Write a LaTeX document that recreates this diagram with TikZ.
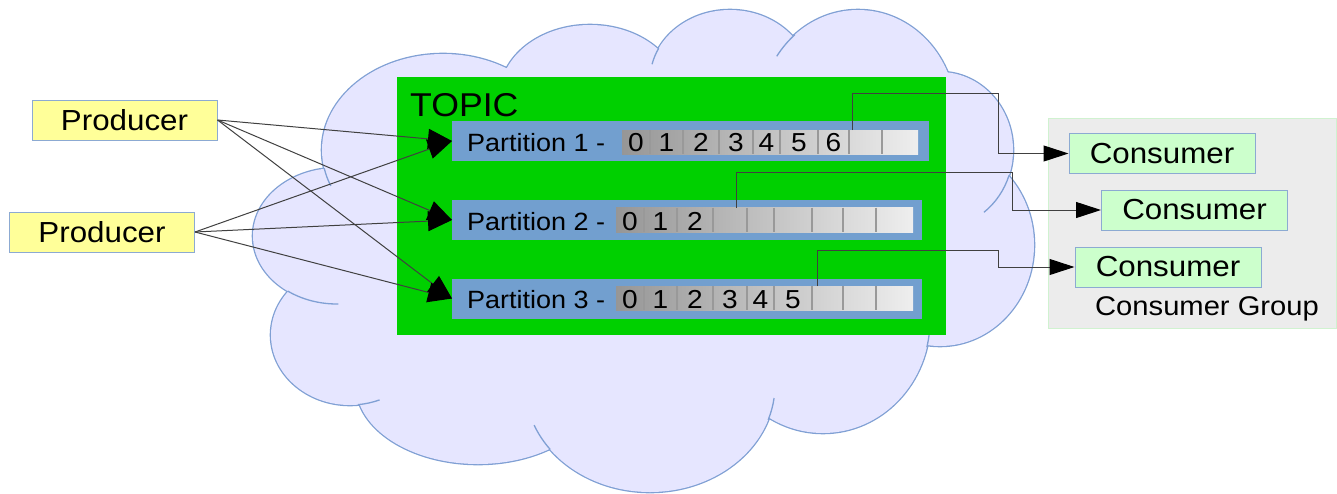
\documentclass[tikz,border=0pt]{standalone}
\usepackage{fontspec}
\setmainfont{Liberation Sans}[FakeStretch=1.08]
\usetikzlibrary{arrows.meta}

\definecolor{cloudfill}{RGB}{230,230,255}
\definecolor{cloudedge}{RGB}{128,160,212}
\definecolor{topicgreen}{RGB}{0,208,0}
\definecolor{barblue}{RGB}{114,159,207}
\definecolor{prodfill}{RGB}{255,255,153}
\definecolor{consfill}{RGB}{204,255,204}
\definecolor{groupfill}{RGB}{236,236,236}
\definecolor{groupline}{RGB}{208,242,208}
\definecolor{boxline}{RGB}{140,170,210}
\definecolor{cellL}{RGB}{150,150,150}
\definecolor{cellR}{RGB}{238,238,238}

\newcommand\pxfont[1]{\fontsize{#1}{#1}\selectfont}

\begin{document}
\begin{tikzpicture}[x=1pt,y=1pt,
  prodbox/.style={draw=boxline, line width=1, fill=prodfill, minimum width=185,
    minimum height=40, inner sep=0, font=\pxfont{29}},
  consbox/.style={draw=boxline, line width=1, fill=consfill, minimum width=186,
    minimum height=40, inner sep=0, font=\pxfont{29}},
  groupbox/.style={draw=groupline, line width=1, fill=groupfill, minimum width=288,
    minimum height=210, inner sep=0},
  partbar/.style={fill=barblue, minimum height=40, inner sep=0, anchor=west},
  partlabel/.style={anchor=base west, inner sep=0, font=\pxfont{25}},
  celldigit/.style={anchor=base, inner sep=0, font=\pxfont{26}},
  cellsep/.style={draw=black!40, line width=1.1},
  feed/.style={draw=black!75, line width=1, -{Triangle[length=24pt,width=20pt,color=black]}},
  fetch/.style={draw=black!75, line width=1, -{Triangle[length=25pt,width=16pt,color=black]}},
]
\useasboundingbox (0,0) rectangle (1337,-493);

% ---- cloud: union of elliptic lobes ----
\def\lobelist{443/150/121/96, 590/95/90/70, 730/80/80/70, 858/115/98/105,
  940/150/73/78, 940/245/94/101, 823/320/107/113, 650/385/125/107,
  478/385/122/79, 350/335/79/70, 337/236/84/68}
\foreach \cx/\cy/\rx/\ry in \lobelist
  \draw[cloudedge, line width=2.6] (\cx,-\cy) ellipse [x radius=\rx, y radius=\ry];
\foreach \cx/\cy/\rx/\ry in \lobelist
  \fill[cloudfill] (\cx,-\cy) ellipse [x radius=\rx, y radius=\ry];
\fill[cloudfill] (324,-170) -- (507,-68) -- (659,-50) -- (793,-37) -- (948,-73)
  -- (1009,-177) -- (927,-345) -- (769,-418) -- (550,-448) -- (360,-404)
  -- (289,-291) -- cycle;
% inner lobe arcs
\begin{scope}[cloudedge, line width=1.3]
  \draw (443,-150) ++(191:121 and 96) arc[start angle=191, end angle=202, x radius=121, y radius=96];
  \draw (337,-236) ++(234:84 and 68) arc[start angle=234, end angle=271, x radius=84, y radius=68];
  \draw (350,-335) ++(276:79 and 70) arc[start angle=276, end angle=292, x radius=79, y radius=70];
  \draw (650,-385) ++(202:125 and 107) arc[start angle=202, end angle=217, x radius=125, y radius=107];
  \draw (650,-385) ++(341:125 and 107) arc[start angle=341, end angle=353, x radius=125, y radius=107];
  \draw (730,-80) ++(153:80 and 70) arc[start angle=153, end angle=167, x radius=80, y radius=70];
  \draw (858,-115) ++(130:98 and 105) arc[start angle=130, end angle=146, x radius=98, y radius=105];
  \draw (940,-150) ++(341:73 and 78) arc[start angle=341, end angle=307, x radius=73, y radius=78];
  \draw (823,-320) ++(346:107 and 113) arc[start angle=346, end angle=362, x radius=107, y radius=113];
\end{scope}

% ---- topic with its partitions ----
\node[fill=topicgreen, minimum width=549, minimum height=258, inner sep=0] (topic) at (671.5,-206) {};
\node[anchor=base west, inner sep=0, font=\pxfont{33}] (topiclabel) at (410,-116.5) {TOPIC};

\node[partbar, minimum width=477] (bar1) at (452,-141) {};
\node[partbar, minimum width=470] (bar2) at (452,-220) {};
\node[partbar, minimum width=470] (bar3) at (452,-298.5) {};

% offset strips
\shade[left color=cellL, right color=cellR] (622,-130) rectangle (918,-154);
\shade[left color=cellL, right color=cellR] (616,-207.5) rectangle (913,-232);
\shade[left color=cellL, right color=cellR] (616,-286) rectangle (913,-310);
\foreach \o in {28,61,97,131,158,196,227,260} {
  \draw[cellsep] (622+\o,-130) -- (622+\o,-154);
  \draw[cellsep] (616+\o,-207.5) -- (616+\o,-232);
  \draw[cellsep] (616+\o,-286) -- (616+\o,-310);
}

\node[partlabel] (lab1) at (467,-151.5) {Partition 1 -};
\node[partlabel] (lab2) at (467,-230) {Partition 2 -};
\node[partlabel] (lab3) at (467,-308.5) {Partition 3 -};

\foreach \m [count=\i from 0] in {14,44.5,79,114,144.5,177,211.5}
  \node[celldigit] (pa\i) at (622+\m,-151.5) {\i};
\foreach \m [count=\i from 0] in {14,44.5,79}
  \node[celldigit] (pb\i) at (616+\m,-230) {\i};
\foreach \m [count=\i from 0] in {14,44.5,79,114,144.5,177}
  \node[celldigit] (pc\i) at (616+\m,-308.5) {\i};

% ---- producers ----
\node[prodbox] (prod1) at (124.5,-120) {Producer};
\node[prodbox] (prod2) at (102,-232) {Producer};

% ---- consumer group ----
\node[groupbox] (group) at (1192,-223) {};
\node[consbox] (cons1) at (1162,-153.5) {Consumer};
\node[consbox] (cons2) at (1194.5,-210) {Consumer};
\node[consbox] (cons3) at (1168,-267) {Consumer};
\node[anchor=base, inner sep=0, font=\pxfont{27}] (grouplabel) at (1207,-315) {Consumer Group};

% ---- writes ----
\foreach \p in {prod1,prod2}
  \foreach \b in {bar1,bar2,bar3}
    \draw[feed] (\p.east) -- (\b.west);

% ---- reads ----
\coordinate (t1) at (852,-130);   \coordinate (k1) at (998,-93.5);
\coordinate (t2) at (736,-207.5); \coordinate (k2) at (1012,-172.5);
\coordinate (t3) at (817.5,-286); \coordinate (k3) at (998,-250.5);
\draw[fetch] (t1) |- (k1) |- (cons1.west);
\draw[fetch] (t2) |- (k2) |- (cons2.west);
\draw[fetch] (t3) |- (k3) |- (cons3.west);
\end{tikzpicture}
\end{document}
